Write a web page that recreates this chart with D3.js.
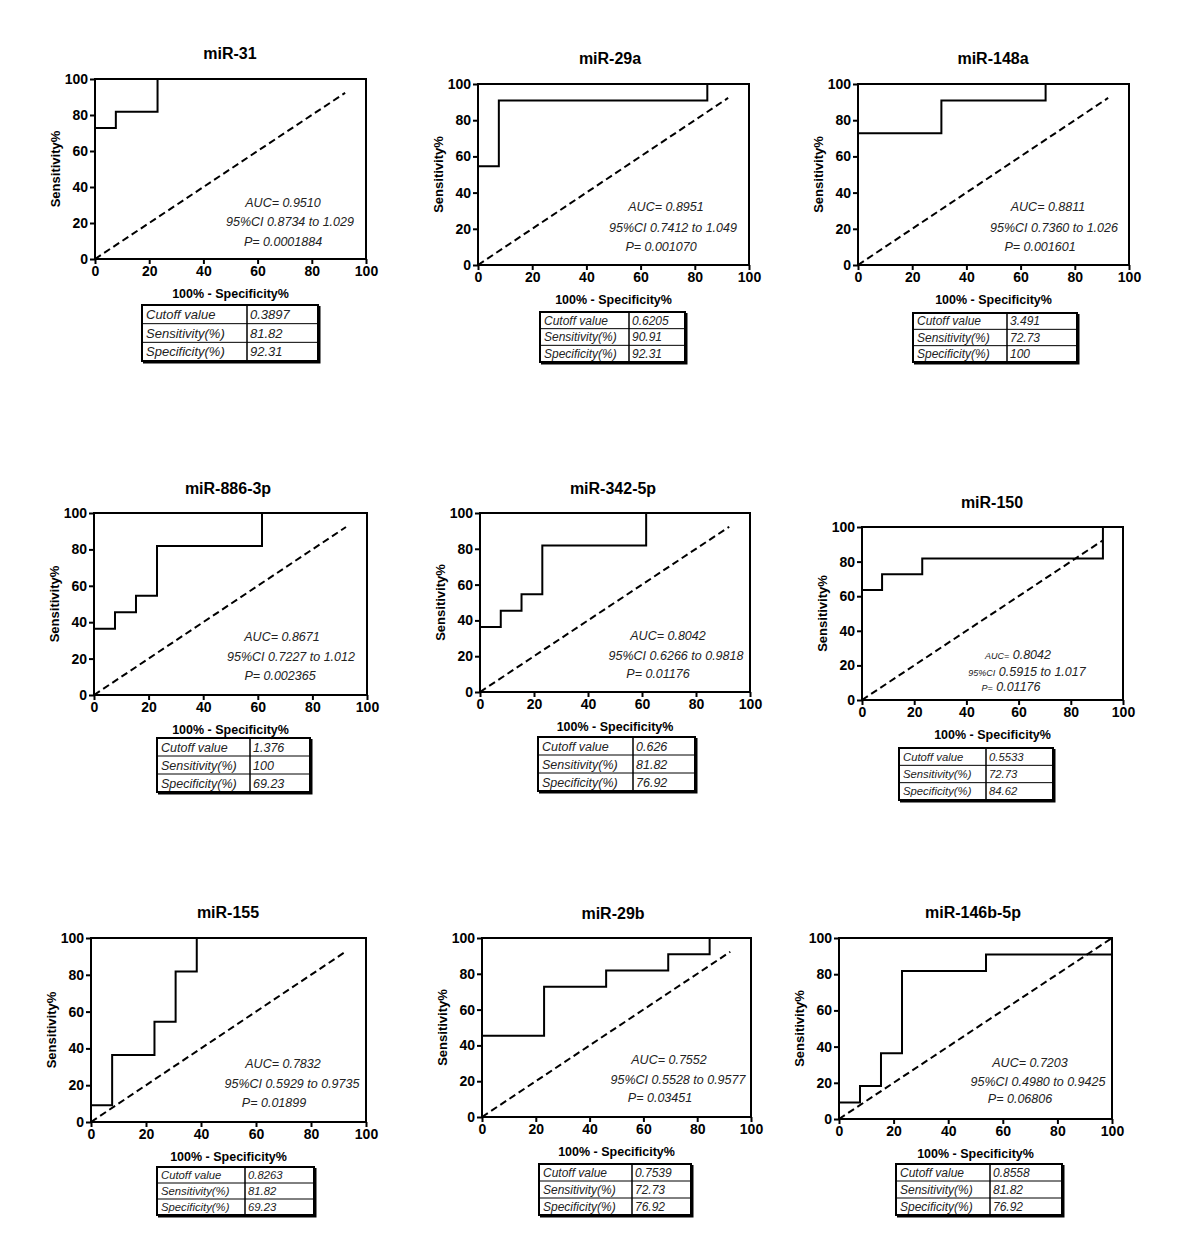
<!DOCTYPE html>
<html>
<head>
<meta charset="utf-8">
<script src="https://cdn.jsdelivr.net/npm/d3@7"></script>
<style>
  body { margin: 0; background: #fff; }
  svg { font-family: "Liberation Sans", Arial, sans-serif; }
</style>
</head>
<body>
<div id="chart"></div>
<script>
// chart values
var titles = ["miR-31", "miR-29a", "miR-148a", "miR-886-3p", "miR-342-5p", "miR-150", "miR-155", "miR-29b", "miR-146b-5p"];
var rocX = [
  [0, 7.69, 23.08, 100],
  [0, 7.69, 84.62, 100],
  [0, 30.77, 69.23, 100],
  [0, 7.69, 15.38, 23.08, 61.54, 100],
  [0, 7.69, 15.38, 23.08, 61.54, 100],
  [0, 7.69, 23.08, 92.31, 100],
  [0, 7.69, 23.08, 30.77, 38.46, 100],
  [0, 23.08, 46.15, 69.23, 84.62, 100],
  [0, 7.69, 15.38, 23.08, 53.85, 100]
];
var rocY = [
  [72.73, 81.82, 100, 100],
  [54.55, 90.91, 100, 100],
  [72.73, 90.91, 100, 100],
  [36.36, 45.45, 54.55, 81.82, 100, 100],
  [36.36, 45.45, 54.55, 81.82, 100, 100],
  [63.64, 72.73, 81.82, 100, 100],
  [9.09, 36.36, 54.55, 81.82, 100, 100],
  [45.45, 72.73, 81.82, 90.91, 100, 100],
  [9.09, 18.18, 36.36, 81.82, 90.91, 100]
];
var diagEnd = [92.3, 92.3, 92.3, 92.3, 92.3, 92.3, 92.3, 92.3, 100];
var auc = ["0.9510", "0.8951", "0.8811", "0.8671", "0.8042", "0.8042", "0.7832", "0.7552", "0.7203"];
var ciLow = ["0.8734", "0.7412", "0.7360", "0.7227", "0.6266", "0.5915", "0.5929", "0.5528", "0.4980"];
var ciHigh = ["1.029", "1.049", "1.026", "1.012", "0.9818", "1.017", "0.9735", "0.9577", "0.9425"];
var pVal = ["0.0001884", "0.001070", "0.001601", "0.002365", "0.01176", "0.01176", "0.01899", "0.03451", "0.06806"];
var cutoff = ["0.3897", "0.6205", "3.491", "1.376", "0.626", "0.5533", "0.8263", "0.7539", "0.8558"];
var sensPct = ["81.82", "90.91", "72.73", "100", "81.82", "72.73", "81.82", "72.73", "81.82"];
var specPct = ["92.31", "92.31", "100", "69.23", "76.92", "84.62", "69.23", "76.92", "76.92"];
var rowLabels = ["Cutoff  value", "Sensitivity(%)", "Specificity(%)"];
var ticks = [0, 20, 40, 60, 80, 100];

// where each panel sits on the page
var layout = [
  {l:95, r:366, t:79, b:259, tx:230, ty:59, sx:[283,290,283], sy:[207,226,246], lab:12.5, tb:[142,247,318,305,361], fs:13},
  {l:478, r:749, t:84, b:265, tx:610, ty:64, sx:[666,673,661], sy:[211,232,251], lab:12.5, tb:[540,629,685,312,362], fs:12},
  {l:858, r:1129, t:84, b:265, tx:993, ty:64, sx:[1048,1054,1040], sy:[211,232,251], lab:12.5, tb:[913,1007,1077,313,362], fs:12},
  {l:94, r:367, t:513, b:695, tx:228, ty:494, sx:[282,291,280], sy:[641,661,680], lab:12.5, tb:[157,250,310,738,792], fs:12.5},
  {l:480, r:750, t:513, b:692, tx:613, ty:494, sx:[668,676,658], sy:[640,660,678], lab:12.5, tb:[538,633,695,737,791], fs:12.5},
  {l:862, r:1123, t:527, b:700, tx:992, ty:508, sx:[1018,1027,1011], sy:[659,676,691], lab:9, tb:[899,986,1053,748,800], fs:11.3},
  {l:91, r:366, t:938, b:1122, tx:228, ty:918, sx:[283,292,274], sy:[1068,1088,1107], lab:12.5, tb:[157,245,314,1167,1215], fs:11.3},
  {l:482, r:751, t:938, b:1117, tx:613, ty:919, sx:[669,678,660], sy:[1064,1084,1102], lab:12.5, tb:[539,632,691,1164,1215], fs:12},
  {l:839, r:1112, t:938, b:1119, tx:973, ty:918, sx:[1030,1038,1020], sy:[1067,1086,1103], lab:12.5, tb:[896,990,1062,1164,1215], fs:12}
];

var svg = d3.select("#chart").append("svg")
    .attr("width", 1200)
    .attr("height", 1257);

titles.forEach(function(title, i) {
  var p = layout[i];
  var x = d3.scaleLinear().domain([0, 100]).range([p.l, p.r]);
  var y = d3.scaleLinear().domain([0, 100]).range([p.b, p.t]);
  var g = svg.append("g").attr("class", "panel");

  g.append("text")
    .attr("x", p.tx).attr("y", p.ty)
    .attr("text-anchor", "middle")
    .style("font-size", "16px").style("font-weight", "bold")
    .text(title);

  // axes
  var xAxis = g.append("g")
    .attr("transform", "translate(0," + p.b + ")")
    .call(d3.axisBottom(x).tickValues(ticks).tickSize(5).tickSizeOuter(0).tickPadding(2));
  var yAxis = g.append("g")
    .attr("transform", "translate(" + p.l + ",0)")
    .call(d3.axisLeft(y).tickValues(ticks).tickSize(5).tickSizeOuter(0).tickPadding(2));
  [xAxis, yAxis].forEach(function(a) {
    a.select(".domain").remove();
    a.selectAll("line").attr("stroke", "#000").attr("stroke-width", 2);
    a.selectAll("text").attr("fill", "#000")
      .style("font-size", "14px").style("font-weight", "bold")
      .style("font-family", "'Liberation Sans', Arial, sans-serif");
  });

  g.append("rect")
    .attr("x", p.l).attr("y", p.t)
    .attr("width", p.r - p.l).attr("height", p.b - p.t)
    .attr("fill", "none").attr("stroke", "#000").attr("stroke-width", 2);

  g.append("text")
    .attr("x", (p.l + p.r) / 2).attr("y", p.b + 39)
    .attr("text-anchor", "middle")
    .style("font-size", "12.5px").style("font-weight", "bold")
    .text("100% - Specificity%");
  g.append("text")
    .attr("transform", "translate(" + (p.l - 35) + "," + ((p.t + p.b) / 2) + ") rotate(-90)")
    .attr("text-anchor", "middle")
    .style("font-size", "13px").style("font-weight", "bold")
    .text("Sensitivity%");

  // reference diagonal
  g.append("line")
    .attr("x1", x(0)).attr("y1", y(0))
    .attr("x2", x(diagEnd[i])).attr("y2", y(diagEnd[i]))
    .attr("stroke", "#000").attr("stroke-width", 2)
    .attr("stroke-dasharray", "7,4");

  // ROC steps
  var pts = rocX[i].map(function(v, k) { return [v, rocY[i][k]]; });
  g.append("path")
    .datum(pts)
    .attr("fill", "none").attr("stroke", "#000").attr("stroke-width", 2)
    .attr("d", d3.line()
      .x(function(d) { return x(d[0]); })
      .y(function(d) { return y(d[1]); })
      .curve(d3.curveStepAfter));

  // stats
  var lines = [["AUC=", " " + auc[i]], ["95%CI", " " + ciLow[i] + " to " + ciHigh[i]], ["P=", " " + pVal[i]]];
  lines.forEach(function(ln, k) {
    var t = g.append("text")
      .attr("x", p.sx[k]).attr("y", p.sy[k])
      .attr("text-anchor", "middle")
      .style("font-style", "italic").style("fill", "#222");
    t.append("tspan").style("font-size", p.lab + "px").text(ln[0]);
    t.append("tspan").style("font-size", "12.5px").text(ln[1]);
  });

  // table
  var tb = p.tb;
  var rowH = (tb[4] - tb[3]) / 3;
  var vals = [cutoff[i], sensPct[i], specPct[i]];
  var tg = g.append("g").attr("class", "tbl");
  tg.append("rect")
    .attr("x", tb[0]).attr("y", tb[3])
    .attr("width", tb[2] - tb[0]).attr("height", tb[4] - tb[3])
    .attr("fill", "#fff").attr("stroke", "#000").attr("stroke-width", 2);
  tg.append("path")
    .attr("d", "M" + (tb[2] + 1.5) + "," + (tb[3] + 1) + "V" + (tb[4] + 1.5) + "H" + (tb[0] + 1))
    .attr("fill", "none").attr("stroke", "#000").attr("stroke-width", 2);
  tg.append("line")
    .attr("x1", tb[1]).attr("x2", tb[1]).attr("y1", tb[3]).attr("y2", tb[4])
    .attr("stroke", "#000").attr("stroke-width", 1.5);
  [1, 2].forEach(function(r) {
    tg.append("line")
      .attr("x1", tb[0]).attr("x2", tb[2])
      .attr("y1", tb[3] + r * rowH).attr("y2", tb[3] + r * rowH)
      .attr("stroke", "#000").attr("stroke-width", 1);
  });
  rowLabels.forEach(function(lbl, r) {
    var yy = tb[3] + r * rowH + rowH / 2 + p.fs * 0.36;
    tg.append("text")
      .attr("x", tb[0] + 4).attr("y", yy)
      .style("font-size", p.fs + "px").style("font-style", "italic").style("fill", "#222")
      .text(lbl);
    tg.append("text")
      .attr("x", tb[1] + 3).attr("y", yy)
      .style("font-size", p.fs + "px").style("font-style", "italic").style("fill", "#222")
      .text(vals[r]);
  });
});
</script>
</body>
</html>
